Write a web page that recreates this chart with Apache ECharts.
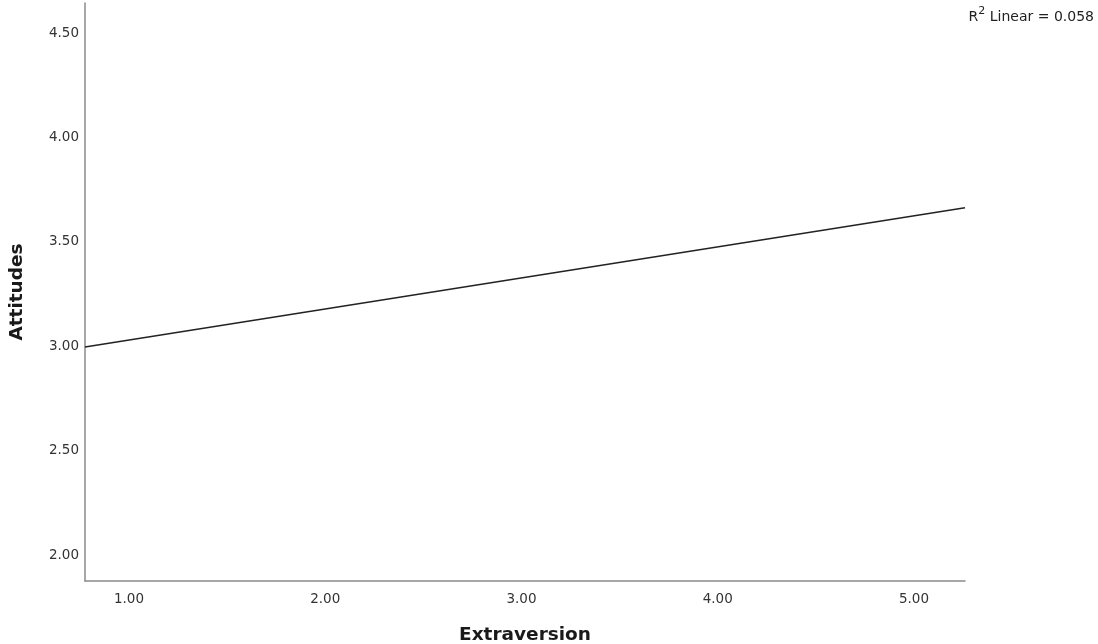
<!DOCTYPE html>
<html>
<head>
<meta charset="utf-8">
<script src="https://cdn.jsdelivr.net/npm/echarts@6/dist/echarts.min.js"></script>
<style>
html,body{margin:0;padding:0;background:#fff;}
#chart{width:1098px;height:644px;}
</style>
</head>
<body>
<div id="chart"></div>
<script>
// Fit line endpoints (Extraversion, Attitudes)
var fitX = [0.776, 5.26];
var fitY = [2.996, 3.663];
var xTicks = [1, 2, 3, 4, 5];
var yTicks = [2.0, 2.5, 3.0, 3.5, 4.0, 4.5];
var xTitle = 'Extraversion';
var yTitle = 'Attitudes';
var r2Text = '0.058';

var fitData = fitX.map(function (x, i) { return [x, fitY[i]]; });
var font = 'DejaVu Sans';
var chart = echarts.init(document.getElementById('chart'));
chart.setOption({
  animation: false,
  backgroundColor: '#fff',
  grid: { left: 85, right: 133, top: 3, bottom: 63, containLabel: false, outerBoundsMode: 'none' },
  xAxis: {
    type: 'value', min: 0.776, max: 5.26,
    name: xTitle, nameLocation: 'middle', nameGap: 45,
    nameTextStyle: { fontFamily: font, fontSize: 18.5, fontWeight: 'bold', color: '#1a1a1a' },
    axisLine: { show: true, onZero: false, lineStyle: { color: '#8a8a8a', width: 1.5 } },
    axisTick: { show: false },
    splitLine: { show: false },
    axisLabel: {
      customValues: xTicks, fontFamily: font, fontSize: 13.5, color: '#333', margin: 11,
      formatter: function (v) { return Number(v).toFixed(2); }
    }
  },
  yAxis: {
    type: 'value', min: 1.8755, max: 4.6437,
    name: yTitle, nameLocation: 'middle', nameGap: 58, nameRotate: 90,
    nameTextStyle: { fontFamily: font, fontSize: 18.5, fontWeight: 'bold', color: '#1a1a1a' },
    axisLine: { show: true, onZero: false, lineStyle: { color: '#8a8a8a', width: 1.5 } },
    axisTick: { show: false },
    splitLine: { show: false },
    axisLabel: {
      customValues: yTicks, fontFamily: font, fontSize: 13.5, color: '#333', margin: 6,
      formatter: function (v) { return Number(v).toFixed(2); }
    }
  },
  graphic: [{
    type: 'text', right: 4, top: 6,
    style: {
      text: '{r|R}{s|2}{r| Linear = ' + r2Text + '}',
      rich: {
        r: { fontFamily: font, fontSize: 14, fill: '#222', verticalAlign: 'bottom', lineHeight: 18 },
        s: { fontFamily: font, fontSize: 11, fill: '#222', verticalAlign: 'top', lineHeight: 12, padding: [0, 0, 6, 0] }
      }
    }
  }],
  series: [{
    type: 'line', data: fitData, symbol: 'none', silent: true,
    lineStyle: { color: '#222', width: 1.4 }
  }]
});
</script>
</body>
</html>
